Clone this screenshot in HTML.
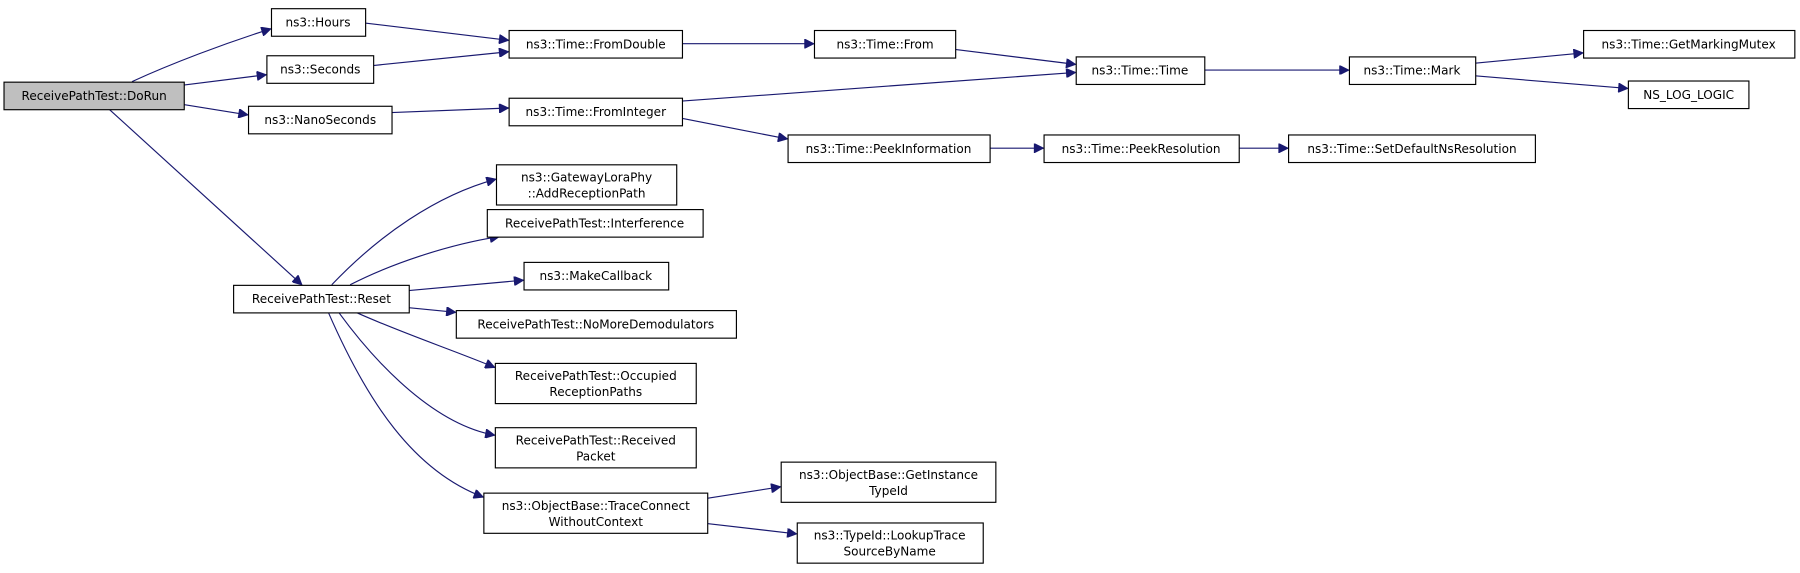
<!DOCTYPE html>
<html><head><meta charset="utf-8"><style>
html,body{margin:0;padding:0;background:#fff}
svg{display:block}
text{font-family:"DejaVu Sans","Liberation Sans",sans-serif;font-size:10.5px;fill:#000;text-anchor:middle}
rect{fill:#fff;stroke:#000;stroke-width:1}
path{fill:none;stroke:#191970;stroke-width:1}
</style></head><body>
<svg width="1800" height="573" viewBox="0 0 1568 499" xmlns="http://www.w3.org/2000/svg">
<defs><marker id="a" viewBox="0 0 10 10" refX="10" refY="5" markerWidth="10" markerHeight="8" markerUnits="userSpaceOnUse" orient="auto"><path d="M0,0 L10,5 L0,10 z" style="fill:#191970;stroke:#191970"/></marker></defs>
<g>
<path d="M115,71 C150,55 195,38 236,25" marker-end="url(#a)"/>
<path d="M160,74 L232,65" marker-end="url(#a)"/>
<path d="M160,91 L216,100" marker-end="url(#a)"/>
<path d="M95,95 L263,248" marker-end="url(#a)"/>
<path d="M318,20 L443,35" marker-end="url(#a)"/>
<path d="M325,57 L443,45" marker-end="url(#a)"/>
<path d="M341,98 L443,94" marker-end="url(#a)"/>
<path d="M594,38 L709,38" marker-end="url(#a)"/>
<path d="M832,43 L937,56" marker-end="url(#a)"/>
<path d="M594,88 L937,63" marker-end="url(#a)"/>
<path d="M594,103 L686,121" marker-end="url(#a)"/>
<path d="M1049,61 L1175,61" marker-end="url(#a)"/>
<path d="M1285,55 L1379,46" marker-end="url(#a)"/>
<path d="M1285,66 L1418,77" marker-end="url(#a)"/>
<path d="M862,129 L909,129" marker-end="url(#a)"/>
<path d="M1079,129 L1122,129" marker-end="url(#a)"/>
<path d="M289,248 C330,205 380,170 432,156" marker-end="url(#a)"/>
<path d="M305,248 C340,230 390,213 435,206" marker-end="url(#a)"/>
<path d="M356,253 L456,244" marker-end="url(#a)"/>
<path d="M356,268 L397,272" marker-end="url(#a)"/>
<path d="M310,272 C350,290 395,305 431,320" marker-end="url(#a)"/>
<path d="M295,272 C330,320 380,370 431,379" marker-end="url(#a)"/>
<path d="M286,272 C320,350 360,410 421,433" marker-end="url(#a)"/>
<path d="M616,434 L680,424" marker-end="url(#a)"/>
<path d="M616,456 L694,465" marker-end="url(#a)"/>
</g>
<rect x="3.5" y="71.5" width="157" height="24" style="fill:#bfbfbf"/><text x="82" y="87">ReceivePathTest::DoRun</text>
<rect x="236.5" y="7.5" width="82" height="24"/><text x="277" y="23">ns3::Hours</text>
<rect x="232.5" y="48.5" width="93" height="24"/><text x="279" y="64">ns3::Seconds</text>
<rect x="216.5" y="92.5" width="125" height="24"/><text x="279" y="108">ns3::NanoSeconds</text>
<rect x="443.5" y="26.5" width="151" height="24"/><text x="519" y="42">ns3::Time::FromDouble</text>
<rect x="443.5" y="85.5" width="151" height="24"/><text x="519" y="101">ns3::Time::FromInteger</text>
<rect x="709.5" y="26.5" width="123" height="24"/><text x="771" y="42">ns3::Time::From</text>
<rect x="937.5" y="49.5" width="112" height="24"/><text x="993" y="65">ns3::Time::Time</text>
<rect x="1175.5" y="49.5" width="110" height="24"/><text x="1230" y="65">ns3::Time::Mark</text>
<rect x="1379.5" y="26.5" width="184" height="24"/><text x="1471" y="42">ns3::Time::GetMarkingMutex</text>
<rect x="1418.5" y="70.5" width="105" height="24"/><text x="1471" y="86">NS_LOG_LOGIC</text>
<rect x="686.5" y="117.5" width="176" height="24"/><text x="774" y="133">ns3::Time::PeekInformation</text>
<rect x="909.5" y="117.5" width="170" height="24"/><text x="994" y="133">ns3::Time::PeekResolution</text>
<rect x="1122.5" y="117.5" width="215" height="24"/><text x="1230" y="133">ns3::Time::SetDefaultNsResolution</text>
<rect x="432.5" y="143.5" width="157" height="35"/><text x="511" y="158">ns3::GatewayLoraPhy</text><text x="511" y="172">::AddReceptionPath</text>
<rect x="424.5" y="182.5" width="188" height="24"/><text x="518" y="198">ReceivePathTest::Interference</text>
<rect x="456.5" y="228.5" width="126" height="24"/><text x="519" y="244">ns3::MakeCallback</text>
<rect x="203.5" y="248.5" width="153" height="24"/><text x="280" y="264">ReceivePathTest::Reset</text>
<rect x="397.5" y="270.5" width="244" height="24"/><text x="519" y="286">ReceivePathTest::NoMoreDemodulators</text>
<rect x="431.5" y="316.5" width="175" height="35"/><text x="519" y="331">ReceivePathTest::Occupied</text><text x="519" y="345">ReceptionPaths</text>
<rect x="431.5" y="372.5" width="175" height="35"/><text x="519" y="387">ReceivePathTest::Received</text><text x="519" y="401">Packet</text>
<rect x="421.5" y="429.5" width="195" height="35"/><text x="519" y="444">ns3::ObjectBase::TraceConnect</text><text x="519" y="458">WithoutContext</text>
<rect x="680.5" y="402.5" width="187" height="35"/><text x="774" y="417">ns3::ObjectBase::GetInstance</text><text x="774" y="431">TypeId</text>
<rect x="694.5" y="455.5" width="162" height="35"/><text x="775" y="470">ns3::TypeId::LookupTrace</text><text x="775" y="484">SourceByName</text>
</svg>
</body></html>
